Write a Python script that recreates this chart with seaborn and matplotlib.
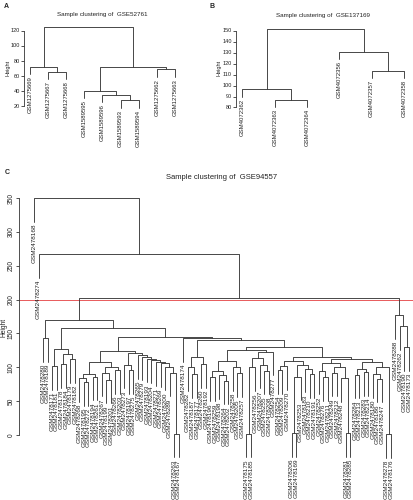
# Sample clustering dendrograms (GSE52761, GSE137169, GSE94557)
import numpy as np
import pandas as pd
import matplotlib
matplotlib.use('Agg')
import matplotlib.pyplot as plt
import seaborn as sns

sns.set_style('white')
plt.rcParams['font.family'] = ['Liberation Sans', 'DejaVu Sans']

# ---- data: leaf labels (left to right) and merge trees (height, left, right) ----
labels_a = ['GSM1275669', 'GSM1275667', 'GSM1275668', 'GSM1589595', 'GSM1589596',
            'GSM1589593', 'GSM1589594', 'GSM1275662', 'GSM1275663']
tree_a = (125, (72, 0, (66, 1, 2)),
          (72.5, (40, 3, (35, 4, (27.5, 5, 6))), (69, 7, 8)))

labels_b = ['GSM4072362', 'GSM4072363', 'GSM4072364', 'GSM4072356', 'GSM4072357', 'GSM4072358']
tree_b = (152, (96.5, 0, (87.3, 1, 2)), (130.5, 3, (113.6, 4, 5)))

labels_c = ['GSM2478168', 'GSM2478274', 'GSM2478280', 'GSM2478189', 'GSM2478171',
            'GSM2478181', 'GSM2478178', 'GSM2478184', 'GSM2478179', 'GSM2478182',
            'GSM2478268', 'GSM2478195', 'GSM2478272', 'GSM2478194', 'GSM2478261',
            'GSM2478267', 'GSM2478199', 'GSM2478201', 'GSM2478266', 'GSM2478203',
            'GSM2478273', 'GSM2478197', 'GSM2478275', 'GSM2478265', 'GSM2478279',
            'GSM2478193', 'GSM2478204', 'GSM2478271', 'GSM2478269', 'GSM2478200',
            'GSM2478289', 'GSM2478263', 'GSM2478167', 'GSM2478174', 'GSM2478282',
            'GSM2478187', 'GSM2478177', 'GSM2478260', 'GSM2478192', 'GSM2478196',
            'GSM2478259', 'GSM2478198', 'GSM2478264', 'GSM2478202', 'GSM2478258',
            'GSM2478205', 'GSM2478257', 'GSM2478175', 'GSM2478185', 'GSM2478256',
            'GSM2478207', 'GSM2478255', 'GSM2478208', 'GSM2478277', 'GSM2478254',
            'GSM2478209', 'GSM2478270', 'GSM2478206', 'GSM2478169', 'GSM2478253',
            'GSM2478183', 'GSM2478210', 'GSM2478191', 'GSM2478252', 'GSM2478276',
            'GSM2478211', 'GSM2478249', 'GSM2478212', 'GSM2478248', 'GSM2478281',
            'GSM2478285', 'GSM2478284', 'GSM2478213', 'GSM2478283', 'GSM2478214',
            'GSM2478180', 'GSM2478186', 'GSM2478247', 'GSM2478278', 'GSM2478176',
            'GSM2478288', 'GSM2478262', 'GSM2478190', 'GSM2478173']

c_right = (177, 80, (161, 81, (130, 82, 83)))
c_a = (127, (102, 4, 5), (120, (105, 6, 7), (112, 8, 9)))
c_b1a = (108, (90, (84, 10, (78, 11, 12)), (86, 13, 14)),
         (100, (92, 15, (82, 16, 17)), (96, 18, 19)))
c_b1b = (121, (104, 20, (96, 21, 22)),
         (118, 23, (116, 24, (113, 25, (111, 26, (108, 27, (106, 28, (101, 29, (92, 30, (2, 31, 32))))))))))
c_b3a = (115, (100, 34, (90, 35, 36)), (105, 37, 38))
c_b4a1 = (110, (95, (85, 39, 40), (88, 41, (80, 42, 43))), (100, 44, (91, 45, 46)))
c_b4a2 = (114, (100, (2, 47, 48), 49), (104, 50, (95, 51, 52)))
c_b4b1 = (110, (102, (96, 54, 55), 56), (104, (86, (3, 57, 58), 59), (98, 60, (90, 61, 62))))
c_b4b2 = (113, (106, (95, 63, (85, 64, 65)), (100, (92, 66, 67), (84, 68, (2.5, 69, 70)))),
          (108, (97, (89, 71, 72), (93, 73, 74)), (101, (90, 75, (83, 76, 77)), (1.5, 78, 79))))
c_b4 = (130, (125, c_b4a1, (123, c_b4a2, 53)), (116, c_b4b1, c_b4b2))
c_b = (145, (124, c_b1a, c_b1b), (143, 33, (140, c_b3a, c_b4)))
c_left = (170, (143, 2, 3), (158, c_a, c_b))
tree_c = (350, 0, (267, 1, (202, c_left, c_right)))

cut_height = 200


def heights(node):
    if isinstance(node, int):
        return []
    return [node[0]] + heights(node[1]) + heights(node[2])


def build(node, hang, segs, leaf_end):
    # returns x position and height of node, collects the drawn polylines
    if isinstance(node, int):
        return node, None
    h, l, r = node
    xl, hl = build(l, hang, segs, leaf_end)
    xr, hr = build(r, hang, segs, leaf_end)
    if hl is None:
        hl = h - hang
        leaf_end[xl] = hl
    if hr is None:
        hr = h - hang
        leaf_end[xr] = hr
    segs.append([(xl, hl), (xl, h), (xr, h), (xr, hr)])
    return (xl + xr) / 2, h


W, H = 414, 500
fig = plt.figure(figsize=(W / 100, H / 100), dpi=100)


def px_axes(left, top, right, bottom):
    return fig.add_axes([left / W, 1 - bottom / H, (right - left) / W, (bottom - top) / H])


def dendro(ax, tree, labels, ticks, title, lab_size, tick_size, title_size, tick_rot, ylab_x):
    hs = heights(tree)
    hang = 0.1 * (max(hs) - min(hs))
    segs, leaf_end = [], {}
    build(tree, hang, segs, leaf_end)
    rows = []
    for k, s in enumerate(segs):
        for j, (x, y) in enumerate(s):
            rows.append({'seg': k, 'o': j, 'x': x, 'y': y})
    df = pd.DataFrame(rows)
    sns.lineplot(data=df, x='x', y='y', units='seg', estimator=None, sort=False,
                 color='#3a3a3a', lw=0.65, ax=ax, legend=False)
    n = len(labels)
    ax.set_xlim(-0.04 * (n - 1), (n - 1) * 1.04)
    lo = min(leaf_end.values())
    hi = max(hs)
    pad = 0.04 * (hi - lo)
    ax.set_ylim(lo - pad, hi + pad)
    for i, lab in enumerate(labels):
        ax.annotate(lab, (i, leaf_end[i]), xytext=(0, -1.5), textcoords='offset points',
                    rotation=90, ha='center', va='top', fontsize=lab_size,
                    color='#222222', annotation_clip=False)
    ax.set_yticks(ticks)
    ax.set_yticklabels([str(t) for t in ticks], rotation=tick_rot,
                       va='center', fontsize=tick_size, color='#222222')
    ax.tick_params(axis='y', length=2, width=0.6, pad=1, left=True, color='#333333')
    ax.set_xticks([])
    for sp in ['top', 'right', 'bottom']:
        ax.spines[sp].set_visible(False)
    ax.spines['left'].set_bounds(ticks[0], ticks[-1])
    ax.spines['left'].set_linewidth(0.6)
    ax.spines['left'].set_color('#333333')
    ax.set_xlabel('')
    # y label drawn as plain text centred on a fixed pixel column
    ax.set_ylabel('')
    fig.text(ylab_x / W, ax.get_position().y0 + ax.get_position().height / 2, 'Height',
             rotation=90, ha='center', va='center', fontsize=tick_size, color='#222222')
    ax.set_title(title, fontsize=title_size, pad=6, color='#222222')
    ax.patch.set_alpha(0)


ax_a = px_axes(24.2, 24, 180.8, 111)
dendro(ax_a, tree_a, labels_a, [20, 40, 60, 80, 100, 120],
       'Sample clustering of  GSE52761', 4.3, 4.0, 4.5, 0, 8)

ax_b = px_axes(236, 25.7, 410.5, 109.7)
dendro(ax_b, tree_b, labels_b, [80, 90, 100, 110, 120, 130, 140, 150],
       'Sample clustering of  GSE137169', 4.3, 4.0, 4.5, 0, 219)

ax_c = px_axes(19, 187.7, 424, 468)
dendro(ax_c, tree_c, labels_c, [0, 50, 100, 150, 200, 250, 300, 350],
       'Sample clustering of  GSE94557', 4.6, 4.8, 5.5, 90, 4)
ax_c.axhline(cut_height, color='#e8595b', lw=0.7, zorder=0)

fig.text(4 / W, 1 - 6 / H, 'A', fontsize=5, fontweight='bold', va='center')
fig.text(210 / W, 1 - 6 / H, 'B', fontsize=5, fontweight='bold', va='center')
fig.text(5 / W, 1 - 172 / H, 'C', fontsize=5, fontweight='bold', va='center')

fig.savefig('out.png', dpi=100)
